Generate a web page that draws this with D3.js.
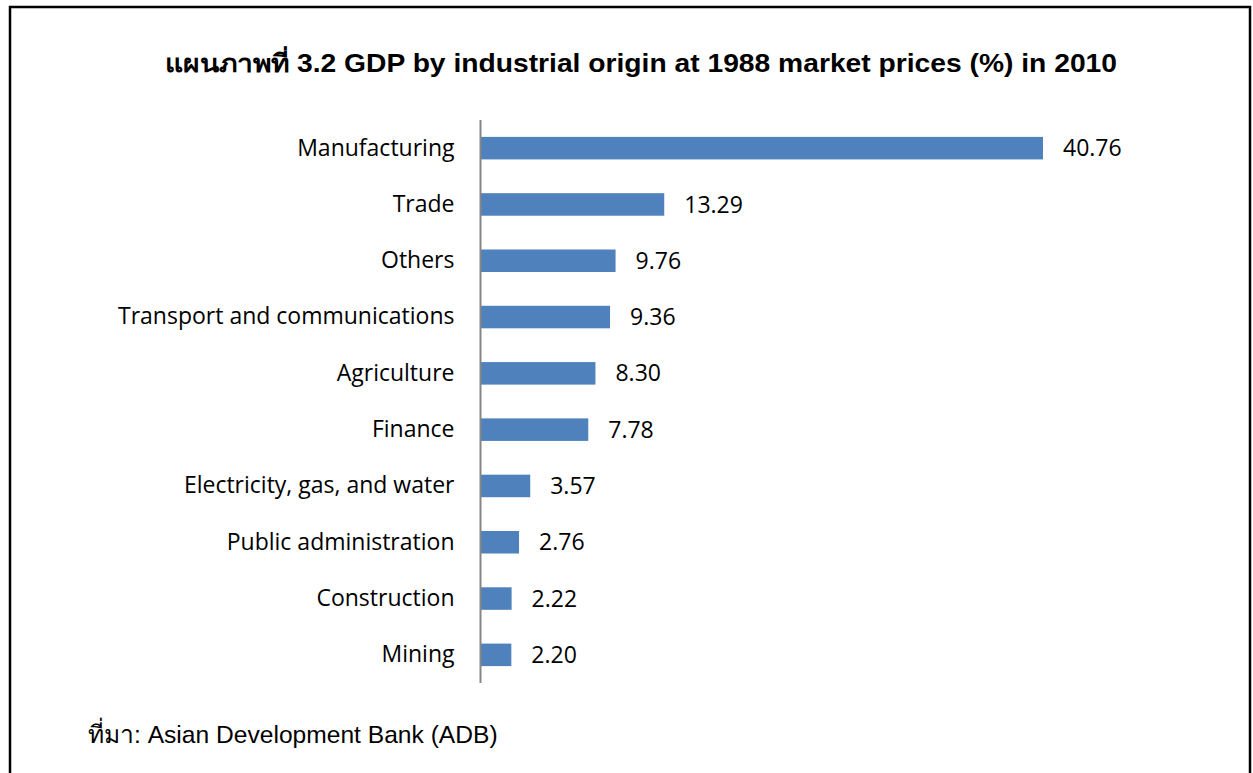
<!DOCTYPE html>
<html>
<head>
<meta charset="utf-8">
<script src="https://cdn.jsdelivr.net/npm/d3@7"></script>
<style>
  html, body { margin: 0; padding: 0; background: #fff; }
  svg { display: block; }
</style>
</head>
<body>
<svg id="chart" width="1253" height="773"></svg>
<script>
// Sector shares of GDP, 2010 (%)
const categories = [
  "Manufacturing", "Trade", "Others", "Transport and communications",
  "Agriculture", "Finance", "Electricity, gas, and water",
  "Public administration", "Construction", "Mining"
];
const values = [40.76, 13.29, 9.76, 9.36, 8.30, 7.78, 3.57, 2.76, 2.22, 2.20];
const valueLabels = ["40.76", "13.29", "9.76", "9.36", "8.30", "7.78", "3.57", "2.76", "2.22", "2.20"];

const titleText = "แผนภาพที่ 3.2 GDP by industrial origin at 1988 market prices (%) in 2010";
const sourceText = "ที่มา: Asian Development Bank (ADB)";

const svg = d3.select("#chart");

// outer frame
svg.append("rect")
  .attr("x", 10).attr("y", 7)
  .attr("width", 1240).attr("height", 780)
  .attr("fill", "#fff").attr("stroke", "#000").attr("stroke-width", 2.5);

const plot = { left: 481, top: 120, bottom: 683 };

const x = d3.scaleLinear().domain([0, 40.76]).range([plot.left, 1043]);
const y = d3.scaleBand().domain(categories).range([plot.top, plot.bottom]).paddingInner(0.6).paddingOuter(0.3);

const labelFont = "'Open Sans', Lato, sans-serif";
const sansFont = "'Liberation Sans', Arial, 'Noto Sans', sans-serif";

// bars
svg.append("g").selectAll("rect")
  .data(categories)
  .join("rect")
  .attr("x", x(0))
  .attr("y", d => y(d))
  .attr("width", (d, i) => x(values[i]) - x(0))
  .attr("height", y.bandwidth())
  .attr("fill", "#4f81bd");

// category axis
const axis = d3.axisLeft(y).tickSize(0).tickPadding(26);
const gAxis = svg.append("g").attr("transform", `translate(${plot.left - 0.5},0)`).call(axis);
gAxis.select(".domain").attr("stroke", "#868686").attr("stroke-width", 2)
  .attr("d", `M0,${plot.top}V${plot.bottom}`);
gAxis.selectAll("text")
  .attr("font-family", labelFont)
  .attr("font-size", 23)
  .attr("fill", "#000");

// value labels
svg.append("g").selectAll("text")
  .data(categories)
  .join("text")
  .attr("x", (d, i) => x(values[i]) + 20)
  .attr("y", d => y(d) + y.bandwidth() / 2)
  .attr("dy", "0.35em")
  .attr("font-family", labelFont)
  .attr("font-size", 23)
  .attr("fill", "#000")
  .text((d, i) => valueLabels[i]);

// title
svg.append("text")
  .attr("x", 165).attr("y", 72)
  .attr("font-family", sansFont)
  .attr("font-weight", "bold")
  .attr("font-size", 25)
  .attr("textLength", 952)
  .attr("lengthAdjust", "spacingAndGlyphs")
  .text(titleText);

// source note
svg.append("text")
  .attr("x", 88).attr("y", 743)
  .attr("font-family", sansFont)
  .attr("font-size", 24.6)
  .text(sourceText);
</script>
</body>
</html>
